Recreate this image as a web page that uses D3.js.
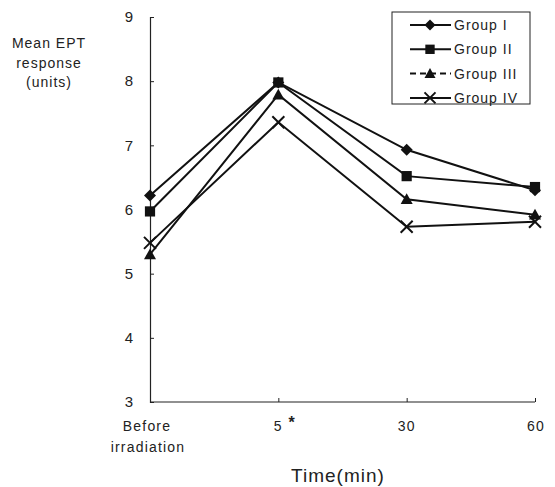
<!DOCTYPE html>
<html>
<head>
<meta charset="utf-8">
<script src="https://cdn.jsdelivr.net/npm/d3@7"></script>
<style>
  body { margin: 0; background: #fff; }
  svg { display: block; font-family: "Liberation Sans", Arial, sans-serif; }
</style>
</head>
<body>
<div id="wrapper"></div>
<script>
// data
const times = ["Before irradiation", "5", "30", "60"];
const groupNames = ["Group I", "Group II", "Group III", "Group IV"];
const groupI   = [6.22, 7.98, 6.93, 6.30];
const groupII  = [5.97, 7.98, 6.52, 6.35];
const groupIII = [5.30, 7.79, 6.16, 5.92];
const groupIV  = [5.48, 7.36, 5.73, 5.81];
const yTicks = [3, 4, 5, 6, 7, 8, 9];

const series = [
  { name: groupNames[0], values: groupI,   marker: "diamond" },
  { name: groupNames[1], values: groupII,  marker: "square" },
  { name: groupNames[2], values: groupIII, marker: "triangle" },
  { name: groupNames[3], values: groupIV,  marker: "cross" },
];

const width = 555, height = 487;

const svg = d3.select("#wrapper").append("svg")
  .attr("width", width)
  .attr("height", height);

const xScale = d3.scalePoint()
  .domain(times)
  .range([150, 535]);

const yScale = d3.scaleLinear()
  .domain([3, 9])
  .range([402, 17]);

// axes
const yAxis = svg.append("g")
  .attr("transform", `translate(${xScale(times[0])},0)`)
  .call(d3.axisRight(yScale).tickValues(yTicks).tickSize(4).tickFormat(d3.format("d")));
yAxis.select(".domain").attr("stroke", "#222").attr("stroke-width", 1.2);
yAxis.selectAll(".tick line").attr("stroke", "#222");
yAxis.selectAll(".tick text")
  .attr("x", -17)
  .attr("text-anchor", "end")
  .attr("font-size", 15)
  .attr("font-family", "Liberation Sans, Arial, sans-serif")
  .attr("fill", "#222");

const xAxis = svg.append("g")
  .attr("transform", `translate(0,${yScale(3)})`)
  .call(d3.axisTop(xScale).tickSize(4).tickFormat(""));
xAxis.select(".domain").attr("stroke", "#222").attr("stroke-width", 1.2)
  .attr("d", `M${xScale(times[0])},0H${xScale(times[3])}`);
xAxis.selectAll(".tick line").attr("stroke", "#222");

// x tick labels
const xl = svg.append("g")
  .attr("font-size", 14)
  .attr("letter-spacing", 1.2)
  .attr("fill", "#222");
xl.append("text").attr("x", xScale(times[0]) - 3).attr("y", 431)
  .attr("text-anchor", "middle").text("Before");
xl.append("text").attr("x", xScale(times[0]) - 2).attr("y", 452)
  .attr("text-anchor", "middle").text("irradiation");
xl.append("text").attr("x", xScale(times[1])).attr("y", 431)
  .attr("text-anchor", "middle").text("5");
xl.append("text").attr("x", xScale(times[1]) + 14).attr("y", 428)
  .attr("text-anchor", "middle").attr("font-size", 16).attr("font-weight", "bold").text("*");
xl.append("text").attr("x", xScale(times[2])).attr("y", 431)
  .attr("text-anchor", "middle").text("30");
xl.append("text").attr("x", xScale(times[3]) + 1).attr("y", 431)
  .attr("text-anchor", "middle").text("60");

// axis titles
svg.append("text")
  .attr("x", 338).attr("y", 482)
  .attr("text-anchor", "middle")
  .attr("font-size", 19)
  .attr("letter-spacing", 1)
  .attr("fill", "#222")
  .text("Time(min)");

const yt = svg.append("g").attr("font-size", 14).attr("letter-spacing", 1)
  .attr("fill", "#222").attr("text-anchor", "middle");
["Mean EPT", "response", "(units)"].forEach((t, i) => {
  yt.append("text").attr("x", 49).attr("y", 48 + i * 19.5).text(t);
});

// markers
function drawMarker(g, type, x, y, s) {
  if (type === "diamond") {
    g.append("path")
      .attr("d", `M${x},${y - s}L${x + s},${y}L${x},${y + s}L${x - s},${y}Z`)
      .attr("fill", "#111");
  } else if (type === "square") {
    g.append("rect")
      .attr("x", x - s * 0.85).attr("y", y - s * 0.85)
      .attr("width", s * 1.7).attr("height", s * 1.7)
      .attr("fill", "#111");
  } else if (type === "triangle") {
    g.append("path")
      .attr("d", `M${x},${y - s}L${x + s},${y + s * 0.8}L${x - s},${y + s * 0.8}Z`)
      .attr("fill", "#111");
  } else {
    g.append("path")
      .attr("d", `M${x - s},${y - s}L${x + s},${y + s}M${x + s},${y - s}L${x - s},${y + s}`)
      .attr("stroke", "#111").attr("stroke-width", 2);
  }
}

const line = d3.line()
  .x((d, i) => xScale(times[i]))
  .y(d => yScale(d));

const plot = svg.append("g");
series.forEach(s => {
  plot.append("path")
    .datum(s.values)
    .attr("d", line)
    .attr("fill", "none")
    .attr("stroke", "#111")
    .attr("stroke-width", 2);
});
series.forEach(s => {
  s.values.forEach((v, i) => drawMarker(plot, s.marker, xScale(times[i]), yScale(v), 6));
});

// legend
const legend = svg.append("g");
legend.append("rect")
  .attr("x", 392).attr("y", 12)
  .attr("width", 138).attr("height", 92)
  .attr("fill", "#fff")
  .attr("stroke", "#222")
  .attr("stroke-width", 1);
series.forEach((s, i) => {
  const y = 25 + i * 24.3;
  legend.append("line")
    .attr("x1", 410).attr("x2", 451)
    .attr("y1", y).attr("y2", y)
    .attr("stroke", "#111").attr("stroke-width", 2)
    .attr("stroke-dasharray", i === 2 ? "6,4" : null);
  drawMarker(legend, s.marker, 430, y, 5.5);
  legend.append("text")
    .attr("x", 454).attr("y", y + 5)
    .attr("font-size", 14)
    .attr("letter-spacing", 1)
    .attr("fill", "#222")
    .text(s.name);
});
</script>
</body>
</html>
